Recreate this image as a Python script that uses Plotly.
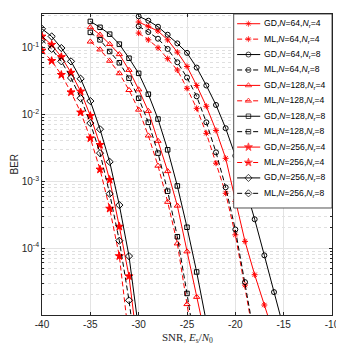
import plotly.graph_objects as go

# ---- data (BER vs SNR in dB) ----
snr_64_gd = list(range(-30, -14))
snr_64_ml = list(range(-30, -17))
snr_128_gd = list(range(-35, -22))
snr_128_ml = list(range(-35, -23))
snr_256 = list(range(-40, -29))

ber_gd_64_4 = [2.4e-1, 2.07e-1, 1.76e-1, 1.30e-1, 8.5e-2, 5.2e-2, 2.7e-2, 1.32e-2,
               5.75e-3, 2.2e-3, 5.0e-4, 1.26e-4, 4.0e-5, 1.41e-5, 5.0e-6]
ber_ml_64_4 = [1.64e-1, 1.30e-1, 9.9e-2, 6.8e-2, 4.6e-2, 2.45e-2, 1.23e-2, 5.2e-3,
               1.86e-3, 6.6e-4, 1.58e-4, 2.8e-5, 4.0e-6]
ber_gd_64_8 = [2.92e-1, 2.51e-1, 2.04e-1, 1.55e-1, 1.15e-1, 8.3e-2, 5.0e-2, 2.7e-2,
               1.38e-2, 6.2e-3, 2.4e-3, 8.5e-4, 2.7e-4, 7.8e-5, 2.2e-5, 6.3e-6]
ber_ml_64_8 = [2.07e-1, 1.70e-1, 1.35e-1, 9.5e-2, 6.0e-2, 3.55e-2, 1.86e-2, 7.6e-3,
               2.7e-3, 8.1e-4, 1.9e-4, 3.1e-5, 4.5e-6]
ber_gd_128_4 = [2.0e-1, 1.55e-1, 1.12e-1, 7.9e-2, 4.6e-2, 2.35e-2, 1.12e-2, 4.0e-3,
                1.41e-3, 4.3e-4, 8.9e-5, 1.86e-5, 4.0e-6]
ber_ml_128_4 = [1.22e-1, 9.3e-2, 6.3e-2, 4.1e-2, 2.3e-2, 1.17e-2, 4.8e-3, 1.7e-3,
                4.9e-4, 1.17e-4, 1.45e-5, 2.0e-6]
ber_gd_128_8 = [2.45e-1, 2.0e-1, 1.58e-1, 1.12e-1, 6.9e-2, 4.1e-2, 2.0e-2, 8.5e-3,
                2.95e-3, 8.5e-4, 2.05e-4, 4.4e-5, 7.9e-6]
ber_ml_128_8 = [1.68e-1, 1.30e-1, 8.7e-2, 5.9e-2, 3.47e-2, 1.74e-2, 7.6e-3, 2.63e-3,
                7.1e-4, 1.48e-4, 2.1e-5, 2.5e-6]
ber_gd_256_4 = [1.46e-1, 1.10e-1, 7.2e-2, 4.2e-2, 2.2e-2, 9.5e-3, 3.5e-3, 1.05e-3,
                2.1e-4, 3.8e-5, 2.5e-6]
ber_ml_256_4 = [9.0e-2, 6.3e-2, 3.9e-2, 2.14e-2, 1.07e-2, 4.4e-3, 1.5e-3, 3.9e-4,
                7.6e-5, 5.0e-6, 2.5e-7]
ber_gd_256_8 = [1.9e-1, 1.46e-1, 9.8e-2, 6.2e-2, 3.4e-2, 1.58e-2, 6.0e-3, 1.95e-3,
                4.4e-4, 7.6e-5, 6.0e-6]
ber_ml_256_8 = [1.30e-1, 9.5e-2, 6.2e-2, 3.5e-2, 1.74e-2, 7.4e-3, 2.63e-3, 6.5e-4,
                1.29e-4, 1.66e-5, 1.3e-6]

labels = [
    "GD,<i>N</i>=64,<i>N</i><sub>r</sub>=4",
    "ML,<i>N</i>=64,<i>N</i><sub>r</sub>=4",
    "GD,<i>N</i>=64,<i>N</i><sub>r</sub>=8",
    "ML,<i>N</i>=64,<i>N</i><sub>r</sub>=8",
    "GD,<i>N</i>=128,<i>N</i><sub>r</sub>=4",
    "ML,<i>N</i>=128,<i>N</i><sub>r</sub>=4",
    "GD,<i>N</i>=128,<i>N</i><sub>r</sub>=8",
    "ML,<i>N</i>=128,<i>N</i><sub>r</sub>=8",
    "GD,<i>N</i>=256,<i>N</i><sub>r</sub>=4",
    "ML,<i>N</i>=256,<i>N</i><sub>r</sub>=4",
    "GD,<i>N</i>=256,<i>N</i><sub>r</sub>=8",
    "ML,<i>N</i>=256,<i>N</i><sub>r</sub>=8",
]

xticks = [-40, -35, -30, -25, -20, -15, -10]
yticks = [1e-4, 1e-3, 1e-2, 1e-1]
ytick_text = ["10<sup>-4</sup>", "10<sup>-3</sup>", "10<sup>-2</sup>", "10<sup>-1</sup>"]

RED = "#ff0000"
BLK = "#000000"
DASH = "5px,3px"

# (x, y, colour, dash, symbol, size)
series = [
    (snr_64_gd[:15], ber_gd_64_4, RED, "solid", "asterisk-open", 5),
    (snr_64_ml, ber_ml_64_4, RED, DASH, "asterisk-open", 5),
    (snr_64_gd, ber_gd_64_8, BLK, "solid", "circle-open", 5),
    (snr_64_ml, ber_ml_64_8, BLK, DASH, "circle-open", 5),
    (snr_128_gd, ber_gd_128_4, RED, "solid", "triangle-up-open", 5.5),
    (snr_128_ml, ber_ml_128_4, RED, DASH, "triangle-up-open", 5.5),
    (snr_128_gd, ber_gd_128_8, BLK, "solid", "square-open", 4.5),
    (snr_128_ml, ber_ml_128_8, BLK, DASH, "square-open", 4.5),
    (snr_256, ber_gd_256_4, RED, "solid", "star", 6),
    (snr_256, ber_ml_256_4, RED, DASH, "star", 6),
    (snr_256, ber_gd_256_8, BLK, "solid", "diamond-open", 5.5),
    (snr_256, ber_ml_256_8, BLK, DASH, "diamond-open", 5.5),
]

fig = go.Figure()

for (x, y, col, dash, sym, sz), name in zip(series, labels):
    fig.add_trace(go.Scatter(
        x=x, y=y, mode="lines+markers", name=name, showlegend=False,
        line=dict(color=col, width=1, dash=dash),
        marker=dict(symbol=sym, size=sz, color=col, line=dict(color=col, width=1)),
    ))

# ---- hand-made legend box (MATLAB style, compact rows) ----
n = len(labels)
pad_top, pad_bot = 0.63, 0.95
fig.add_trace(go.Scatter(
    x=[0, 1, 1, 0, 0], y=[-pad_top, -pad_top, n - 1 + pad_bot, n - 1 + pad_bot, -pad_top],
    xaxis="x2", yaxis="y2", mode="lines", fill="toself", fillcolor="white",
    line=dict(width=0), hoverinfo="skip", showlegend=False,
))
for i, ((x, y, col, dash, sym, sz), name) in enumerate(zip(series, labels)):
    fig.add_trace(go.Scatter(
        x=[0.035, 0.15, 0.27], y=[i, i, i], xaxis="x2", yaxis="y2",
        mode="lines+markers", showlegend=False, hoverinfo="skip",
        line=dict(color=col, width=1, dash=dash),
        marker=dict(symbol=sym, size=[0, sz, 0], color=col, line=dict(color=col, width=1)),
    ))
    fig.add_annotation(
        x=0.29, y=i, xref="x2", yref="y2", text=name, showarrow=False,
        xanchor="left", yanchor="middle",
        font=dict(family="Liberation Sans", size=8.6, color=BLK),
    )
fig.add_shape(type="rect", xref="x2 domain", yref="y2 domain", x0=0, x1=1, y0=0, y1=1,
              line=dict(color="#262626", width=0.8), layer="above")

axis_col = "#262626"
grid_col = "#e3e3e3"

minor_vals = [m * 10.0 ** e for e in range(-5, 0) for m in range(2, 10)]

# axis titles as annotations for exact placement
fig.add_annotation(
    x=0.5, y=0, xref="paper", yref="paper", yanchor="middle", yshift=-23,
    text="SNR, <i>E</i><sub>s</sub>/<i>N</i><sub>0</sub>", showarrow=False,
    font=dict(family="Liberation Serif", size=11, color=axis_col),
)
fig.add_annotation(
    x=0, y=0.5, xref="paper", yref="paper", xanchor="center", xshift=-28,
    text="BER", textangle=-90, showarrow=False,
    font=dict(family="Liberation Sans", size=10, color=axis_col),
)

# the page body adds an 8px offset, so the figure is sized to end at the window edge
fig.update_layout(
    width=336, height=341,
    margin=dict(l=34, r=12, t=6, b=34, autoexpand=False),
    paper_bgcolor="white", plot_bgcolor="white",
    font=dict(family="Liberation Sans", size=10, color=axis_col),
    xaxis=dict(
        range=[-40, -10], tickmode="array", tickvals=xticks,
        ticktext=[str(v) for v in xticks], automargin=False,
        ticks="inside", ticklen=3, tickcolor=axis_col,
        showline=True, linecolor=axis_col, linewidth=0.8, mirror="ticks",
        showgrid=True, gridcolor=grid_col, gridwidth=0.8, zeroline=False,
        tickfont=dict(size=10, color=axis_col),
    ),
    yaxis=dict(
        type="log", range=[-5, -0.5], tickmode="array", tickvals=yticks,
        ticktext=ytick_text, automargin=False,
        ticks="inside", ticklen=3, tickcolor=axis_col,
        showline=True, linecolor=axis_col, linewidth=0.8, mirror="ticks",
        showgrid=True, gridcolor=grid_col, gridwidth=0.8, zeroline=False,
        tickfont=dict(size=10, color=axis_col),
        minor=dict(tickmode="array", tickvals=minor_vals, showgrid=True,
                   gridcolor="#e0e0e0", griddash="dot", gridwidth=0.8,
                   ticks="inside", ticklen=2, tickcolor=axis_col),
    ),
    xaxis2=dict(domain=[0.661, 1.0], anchor="y2", range=[0, 1], visible=False,
                fixedrange=True),
    yaxis2=dict(domain=[0.3555, 1.0], anchor="x2",
                range=[n - 1 + pad_bot, -pad_top], visible=False, fixedrange=True),
)

fig.write_html("out.html")
